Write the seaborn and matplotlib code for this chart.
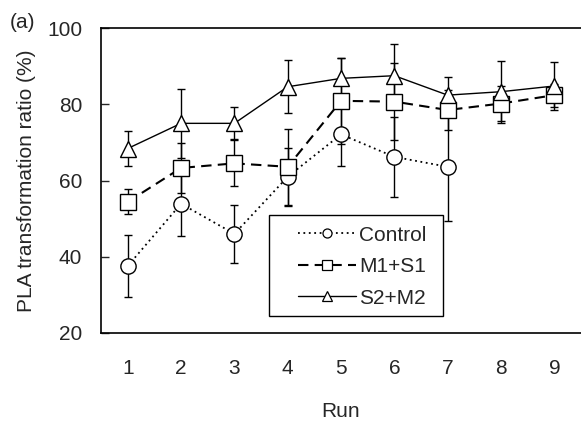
import numpy as np
import pandas as pd
import matplotlib
matplotlib.use("Agg")
import matplotlib.pyplot as plt
from matplotlib.patches import Rectangle
import seaborn as sns

# values
runs = [1, 2, 3, 4, 5, 6, 7, 8, 9]
control = [37.6, 53.9, 46.0, 61.0, 72.1, 66.2, 63.6]
control_err = [8.1, 8.4, 7.6, 7.6, 8.2, 10.4, 14.2]
m1s1 = [54.4, 63.3, 64.5, 63.6, 80.9, 80.7, 78.5, 80.2, 82.4]
m1s1_err = [3.3, 6.5, 6.0, 10.0, 11.2, 10.0, 5.3, 4.5, 3.0]
s2m2 = [68.4, 75.0, 75.0, 84.6, 86.8, 87.5, 82.4, 83.3, 84.8]
s2m2_err = [4.7, 9.0, 4.2, 7.0, 5.3, 8.3, 4.8, 8.1, 6.2]

# name, values, errors, marker, linestyle, linewidth, marker size
series = [
    ("Control", control, control_err, "o", (0, (1, 2)), 1.3, 11),
    ("M1+S1", m1s1, m1s1_err, "s", (0, (5, 3)), 1.5, 11.5),
    ("S2+M2", s2m2, s2m2_err, "^", "-", 1.0, 12),
]

sns.set_style("white")
plt.rcParams["font.family"] = ["Liberation Sans", "DejaVu Sans"]
plt.rcParams["font.size"] = 15

fig = plt.figure(figsize=(5.81, 4.25), dpi=100)
ax = fig.add_axes([0.174, 0.2165, 0.826, 0.7175])

handles = []
for name, vals, errs, mk, ls, lw, ms in series:
    df = pd.DataFrame({"Run": runs[:len(vals)], "val": vals})
    ax.errorbar(df["Run"], df["val"], yerr=errs, fmt="none", ecolor="black",
                elinewidth=1.0, capsize=3, capthick=1.0, zorder=2)
    sns.lineplot(data=df, x="Run", y="val", ax=ax, color="black", linewidth=lw,
                 linestyle=ls, marker=mk, markersize=ms, markerfacecolor="white",
                 markeredgecolor="black", markeredgewidth=1.0, zorder=3)
    # legend handles use smaller markers, as in the original
    h, = ax.plot([], [], color="black", linewidth=lw, linestyle=ls, marker=mk,
                 markersize=6.5, markerfacecolor="white", markeredgecolor="black",
                 markeredgewidth=0.9)
    handles.append((h, name))

ax.set_xlim(0.5, 9.5)
ax.set_ylim(20, 100)
ax.set_xticks(runs)
ax.set_xticks(np.arange(1.5, 9.5, 1), minor=True)
ax.set_yticks([20, 40, 60, 80, 100])
ax.tick_params(axis="x", which="major", length=0, pad=19, labelsize=15)
ax.tick_params(axis="x", which="minor", direction="in", length=5, width=1)
ax.tick_params(axis="y", direction="in", length=5.5, width=1, pad=13.5, labelsize=15, left=True)
ax.set_xlabel("Run", fontsize=15, labelpad=17)
ax.set_ylabel("PLA transformation ratio (%)", fontsize=15, labelpad=8)

for s in ["left", "bottom", "top"]:
    ax.spines[s].set_color("black")
    ax.spines[s].set_linewidth(1.2)
ax.spines["right"].set_visible(False)

# legend box is wider than matplotlib's own frame, so draw it separately
ax.add_patch(Rectangle((0.35, 0.0557), 0.3625, 0.331, transform=ax.transAxes,
                       facecolor="none", edgecolor="black", linewidth=1.0, zorder=4))
leg = ax.legend([h for h, _ in handles], [n for _, n in handles],
                loc="center left", bbox_to_anchor=(0.41, 0.218),
                borderaxespad=0, frameon=False, handlelength=2.8,
                labelspacing=0.6, borderpad=0, handletextpad=0.15, fontsize=15)

fig.text(10 / 581, 1 - 28 / 425, "(a)", fontsize=15, va="baseline")

fig.savefig("out.png", dpi=100)
